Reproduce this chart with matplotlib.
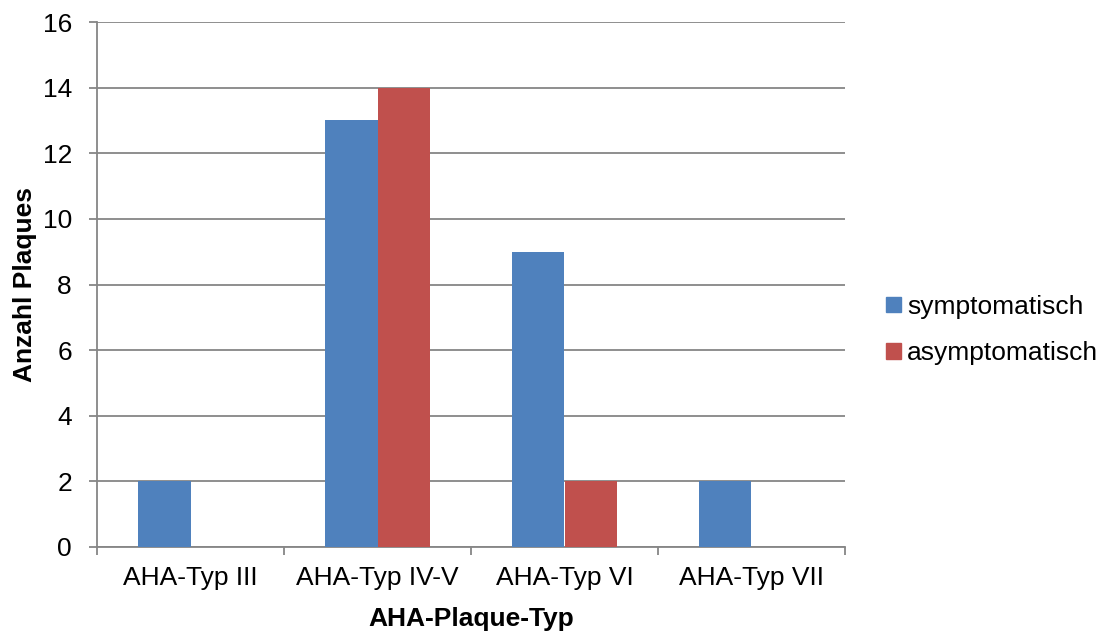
import matplotlib
matplotlib.use("Agg")
import matplotlib.pyplot as plt
from matplotlib.patches import Patch
import numpy as np

plt.rcParams['font.family'] = ['Liberation Sans', 'DejaVu Sans']

categories = ["AHA-Typ III", "AHA-Typ IV-V", "AHA-Typ VI", "AHA-Typ VII"]
symptomatisch = [2, 13, 9, 2]
asymptomatisch = [0, 14, 2, 0]
series_names = ["symptomatisch", "asymptomatisch"]
colors = ["#4F81BD", "#C0504D"]
grid_color = "#868686"
fs = 19

fig = plt.figure(figsize=(11.03, 6.32), dpi=100)
ax = fig.add_axes([97 / 1103, 1 - 547 / 632, (845 - 97) / 1103, (547 - 22) / 632])

x = np.arange(len(categories))
w = 0.283
ax.bar(x - w / 2, symptomatisch, w, color=colors[0], zorder=3)
ax.bar(x + w / 2, asymptomatisch, w, color=colors[1], zorder=3)

ax.set_xlim(-0.5, len(categories) - 0.5)
ax.set_ylim(0, 16)
ax.set_yticks(range(0, 17, 2))
ax.yaxis.grid(True, color=grid_color, linewidth=1.3, zorder=0)

# category labels centred, tick marks on category boundaries
ax.set_xticks(x)
ax.set_xticklabels(categories)
ax.set_xticks(np.arange(-0.5, len(categories)), minor=True)
ax.tick_params(axis='x', which='major', length=0, pad=14, labelsize=fs)
ax.tick_params(axis='x', which='minor', length=6, width=1.3, color=grid_color, direction='out')
ax.tick_params(axis='y', length=6, width=1.3, color=grid_color, direction='out', pad=12, labelsize=fs)

for s in ['top', 'right']:
    ax.spines[s].set_visible(False)
for s in ['left', 'bottom']:
    ax.spines[s].set_color(grid_color)
    ax.spines[s].set_linewidth(1.3)

ax.set_ylabel("Anzahl Plaques", fontsize=fs, fontweight='bold', labelpad=4)
ax.set_xlabel("AHA-Plaque-Typ", fontsize=fs, fontweight='bold', labelpad=12)

handles = [Patch(color=c, label=n) for c, n in zip(colors, series_names)]
fig.legend(handles=handles, loc='center left', bbox_to_anchor=(886 / 1103, 1 - 330 / 632),
           frameon=False, fontsize=fs, handlelength=0.55, handleheight=0.55,
           handletextpad=0.25, labelspacing=0.85, borderpad=0, borderaxespad=0)

fig.savefig("out.png", dpi=100)
